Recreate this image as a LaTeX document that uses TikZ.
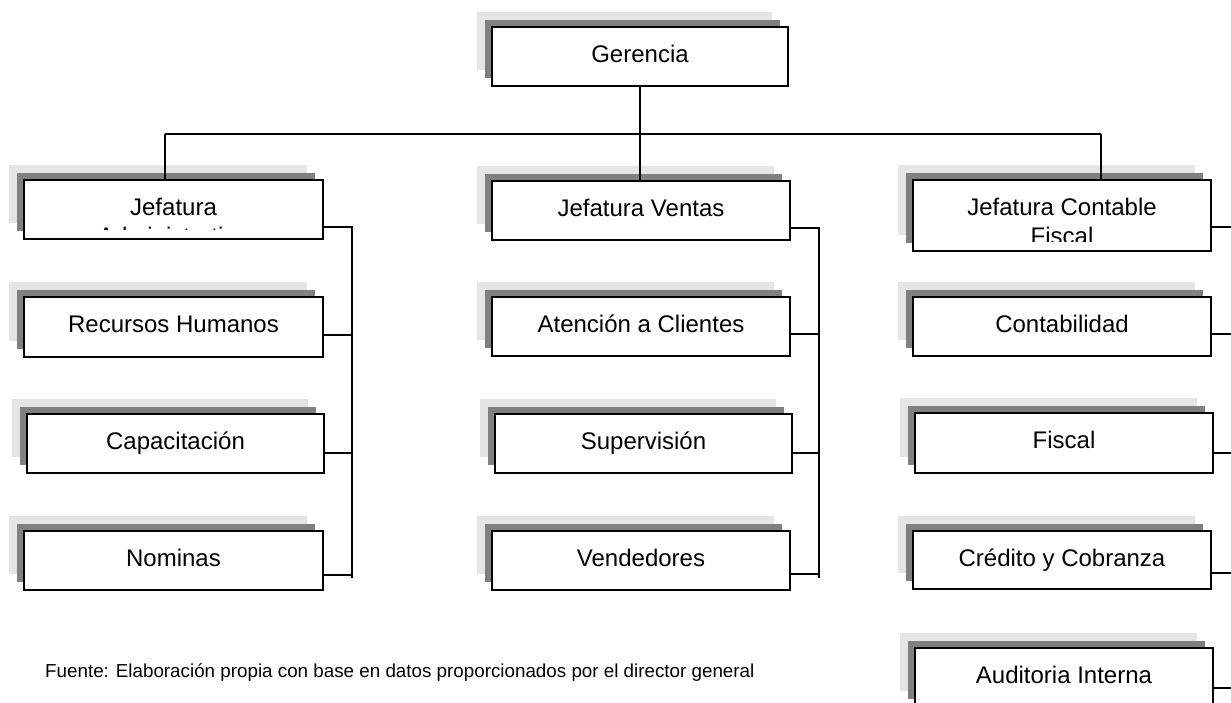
\documentclass[tikz,border=0pt]{standalone}
\usepackage{fontspec}
\setmainfont{Liberation Sans}
\usetikzlibrary{fit,calc}

\definecolor{shadelight}{gray}{0.9}
\definecolor{shadedark}{gray}{0.5}

\tikzset{
  unitbox/.style={draw=black, line width=2pt, fill=white, inner sep=0pt, outer sep=0pt},
  boxlabel/.style={anchor=base, inner sep=0pt, font=\fontsize{24}{29}\selectfont},
  link/.style={draw=black, line width=1.4pt},
  lightshade/.style={fill=shadelight},
  darkshade/.style={fill=shadedark},
  sourcenote/.style={anchor=base west, inner sep=0pt, font=\fontsize{18.8}{22}\selectfont},
}

% one unit of the chart: two stacked shadows, the framed box and its label
% #1 name, #2 left, #3 top, #4 right, #5 bottom, #6 label
\newcommand{\orgunit}[6]{%
  \fill[lightshade] (#2-15,#3-15) rectangle (#4-16,#5-16);
  \fill[darkshade] (#2-7,#3-7) rectangle (#4-8,#5-8);
  \node[unitbox, fit={(#2,#3) (#4,#5)}] (#1) {};
  \node[boxlabel] (#1-t) at ([yshift=-35pt]#1.north) {#6};
}
% same, with a second label line cut off inside the box
\newcommand{\orgunittwo}[7]{%
  \fill[lightshade] (#2-15,#3-15) rectangle (#4-16,#5-16);
  \fill[darkshade] (#2-7,#3-7) rectangle (#4-8,#5-8);
  \node[unitbox, fit={(#2,#3) (#4,#5)}] (#1) {};
  \begin{scope}
    \clip (#2,#3) rectangle (#4,#5-10);
    \node[boxlabel] (#1-t) at ([yshift=-35pt]#1.north) {#6};
    \node[boxlabel] (#1-u) at ([yshift=-64pt]#1.north) {#7};
  \end{scope}
}

\begin{document}
\begin{tikzpicture}[x=1pt, y=-1pt]
  \useasboundingbox (0,0) rectangle (1231,702);
  \clip (0,0) rectangle (1231,702);

  % top
  \orgunit{ger}{492}{27}{788}{86}{Gerencia}

  % left column
  \orgunittwo{adm}{24}{180}{323}{239}{Jefatura}{Administrativa}
  \orgunit{rh}{24}{297}{323}{357}{Recursos Humanos}
  \orgunit{cap}{27}{414}{324}{473}{Capacitación}
  \orgunit{nom}{24}{531}{323}{590}{Nominas}

  % middle column
  \orgunit{ven}{492}{181}{790}{240}{Jefatura Ventas}
  \orgunit{atc}{492}{297}{790}{356}{Atención a Clientes}
  \orgunit{sup}{495}{414}{792}{473}{Supervisión}
  \orgunit{vend}{492}{531}{790}{590}{Vendedores}

  % right column
  \orgunittwo{ctb}{913}{180}{1211}{251}{Jefatura Contable}{Fiscal}
  \orgunit{cont}{913}{297}{1211}{356}{Contabilidad}
  \orgunit{fis}{915}{413}{1213}{473}{Fiscal}
  \orgunit{cyc}{913}{531}{1211}{589}{Crédito y Cobranza}
  \orgunit{aud}{915}{648}{1213}{707}{Auditoria Interna}

  % bus under the top unit
  \coordinate (bus) at (640,134);
  \coordinate (busL) at (165,134);
  \coordinate (busR) at (1101,134);
  \draw[link] (ger.south) -- (bus);
  \draw[link] (busL) -- (busR);
  \draw[link] (busL) -- (busL |- adm.north);
  \draw[link] (bus) -- (bus |- ven.north);
  \draw[link] (busR) -- (busR |- ctb.north);

  % left spine
  \coordinate (l1) at (352,227);
  \coordinate (l2) at (352,335);
  \coordinate (l3) at (352,453);
  \coordinate (l4) at (352,575);
  \coordinate (lend) at (352,578);
  \draw[link] (l1 -| adm.east) -- (l1) -- (lend);
  \draw[link] (l2 -| rh.east) -- (l2);
  \draw[link] (l3 -| cap.east) -- (l3);
  \draw[link] (l4 -| nom.east) -- (l4);

  % middle spine
  \coordinate (m1) at (819,228);
  \coordinate (m2) at (819,334);
  \coordinate (m3) at (819,453);
  \coordinate (m4) at (819,574);
  \coordinate (mend) at (819,578);
  \draw[link] (m1 -| ven.east) -- (m1) -- (mend);
  \draw[link] (m2 -| atc.east) -- (m2);
  \draw[link] (m3 -| sup.east) -- (m3);
  \draw[link] (m4 -| vend.east) -- (m4);

  % right column leads
  \coordinate (r1) at (1240,227);
  \coordinate (r2) at (1240,334);
  \coordinate (r3) at (1240,453);
  \coordinate (r4) at (1240,573);
  \coordinate (r5) at (1240,688);
  \draw[link] (r1 -| ctb.east) -- (r1);
  \draw[link] (r2 -| cont.east) -- (r2);
  \draw[link] (r3 -| fis.east) -- (r3);
  \draw[link] (r4 -| cyc.east) -- (r4);
  \draw[link] (r5 -| aud.east) -- (r5);

  % source note
  \node[sourcenote] (src) at (45,677) {Fuente: Elaboración propia con base en datos proporcionados por el director general};
\end{tikzpicture}
\end{document}
